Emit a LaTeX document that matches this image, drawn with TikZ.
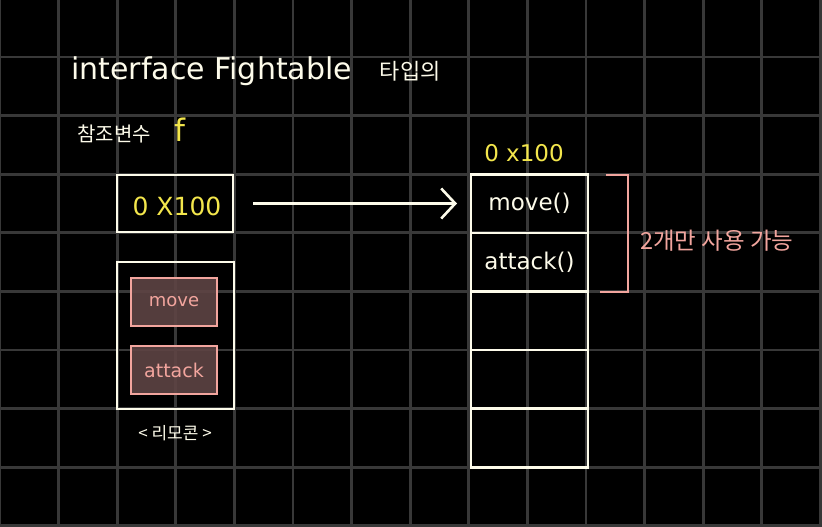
\documentclass[tikz,border=0pt]{standalone}
\usepackage{fontspec}
\setmainfont{DejaVu Sans}
\newfontfamily\kr{Noto Sans CJK KR}
\usetikzlibrary{arrows.meta}
\definecolor{bg}{HTML}{000000}
\definecolor{gridc}{HTML}{383838}
\definecolor{cream}{HTML}{FDFBEA}
\definecolor{yell}{HTML}{F3E64C}
\definecolor{pinkc}{HTML}{F2A59E}
\definecolor{btnfill}{HTML}{5E4444}
\tikzset{
  gridline/.style={draw=gridc, line width=2.8pt},
  membox/.style={draw=cream, line width=2.6pt, inner sep=0pt, outer sep=0pt},
  cellbox/.style={membox, minimum width=117pt, minimum height=58.6pt},
  btnbox/.style={draw=pinkc, fill=btnfill, fill opacity=0.9, text opacity=1, line width=2.2pt, minimum width=86pt, minimum height=48pt, inner sep=0pt},
  txt/.style={text=cream, inner sep=0pt},
  ytxt/.style={text=yell, inner sep=0pt},
  ptxt/.style={text=pinkc, inner sep=0pt},
  refarrow/.style={draw=cream, line width=2.6pt, -{Straight Barb[length=14pt, width=30pt, line width=2.6pt]}},
  bracket/.style={draw=pinkc, line width=2.4pt}
}
\begin{document}
\begin{tikzpicture}[x=1pt, y=-1pt]
\fill[bg] (0,0) rectangle (822,527);
\useasboundingbox (0,0) rectangle (822,527);
% grid
\foreach \i in {0,...,14} {\draw[gridline] (58.6*\i,0) -- (58.6*\i,527);}
\foreach \j in {1,...,9} {\draw[gridline] (0,-1.6+58.6*\j) -- (822,-1.6+58.6*\j);}
% title
\node[txt, anchor=base west] (title) at (71,79) {\fontsize{30}{32}\selectfont interface Fightable\hspace{28pt}{\kr\fontsize{22}{24}\selectfont 타입의}};
\node[txt, anchor=base west] (refvar) at (77,141) {{\kr\fontsize{20}{22}\selectfont 참조변수}\hspace{24pt}\textcolor{yell}{\fontsize{31}{33}\selectfont f}};
% reference box
\node[membox, minimum width=116pt, minimum height=57pt] (ref) at (175,203.5) {};
\node[ytxt] (refval) at (177,206) {\fontsize{25}{27}\selectfont 0 X100};
% remote
\node[membox, minimum width=117pt, minimum height=147pt] (remote) at (175.5,335.5) {};
\node[btnbox] (bmove) at (174,302) {};
\node[ptxt] at (bmove) {\fontsize{18}{20}\selectfont move};
\node[btnbox] (battack) at (174,370) {};
\node[ptxt] at (battack) {\fontsize{19}{21}\selectfont attack};
\node[txt] (remlabel) at (175,433) {\kr\fontsize{17}{19}\selectfont < 리모콘 >};
% memory stack
\node[ytxt] (addr) at (524,153) {\fontsize{23}{25}\selectfont 0 x100};
\node[cellbox] (c1) at (529.5,203.5) {};
\node[txt] at (c1) {\fontsize{23}{25}\selectfont move()};
\node[cellbox] (c2) at (529.5,262.1) {};
\node[txt] at (c2) {\fontsize{23}{25}\selectfont attack()};
\node[cellbox] (c3) at (529.5,320.7) {};
\node[cellbox] (c4) at (529.5,379.3) {};
\node[cellbox] (c5) at (529.5,437.9) {};
% arrow
\draw[refarrow, shorten <=20pt, shorten >=14pt] (ref.east) -- (c1.west);
% bracket
\coordinate (bt) at (606,175);
\coordinate (bb) at (600,292);
\draw[bracket] (bt) -- (628,175) -- (628,292) -- (bb);
\node[ptxt, anchor=west] (note) at (640,241) {\kr\fontsize{23.5}{25}\selectfont 2개만 사용 가능};
\end{tikzpicture}
\end{document}
